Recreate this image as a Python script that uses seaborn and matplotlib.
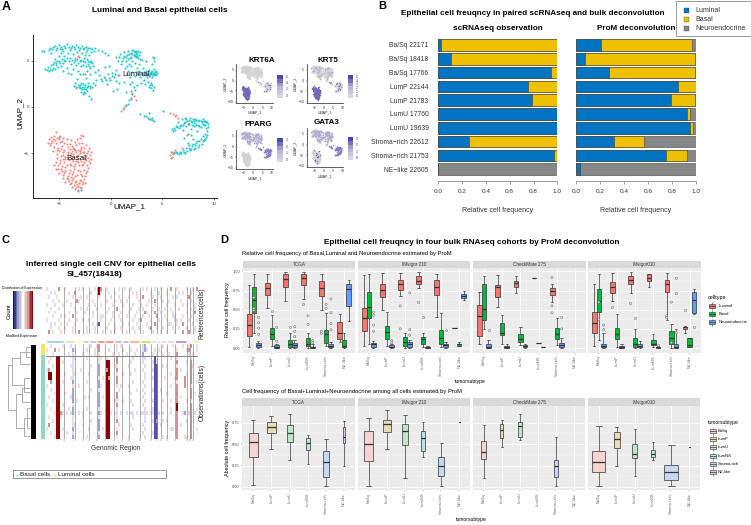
import matplotlib
matplotlib.use('Agg')
import matplotlib.pyplot as plt
import numpy as np
import pandas as pd
import seaborn as sns
from matplotlib.colors import LinearSegmentedColormap
from matplotlib.patches import Rectangle

W, H = 751, 525

# panel A, UMAP points
lum_top = [
    (-6.7, 6.0), (-6.5, 6.0), (-6.0, 6.1), (-5.8, 5.8), (-5.9, 6.4), (-5.6, 6.5), (-5.4, 6.6), (-5.2, 6.4),
    (-5.0, 6.7), (-4.8, 6.5), (-4.7, 6.2), (-4.5, 6.6), (-4.3, 6.8), (-4.1, 6.5), (-4.0, 6.1), (-3.8, 6.6),
    (-3.6, 6.5), (-3.4, 6.7), (-3.2, 6.5), (-3.0, 6.3), (-2.8, 6.6), (-2.6, 6.4), (-2.4, 6.5), (-2.2, 6.3),
    (-2.0, 6.4), (-1.8, 6.2), (-1.5, 6.3), (-1.2, 6.1), (-0.9, 6.0), (-0.6, 5.8), (-0.3, 5.6),
    (-6.4, 4.1), (-6.2, 4.0), (-6.1, 4.3), (-5.9, 4.1), (-5.8, 4.5), (-5.6, 4.2), (-5.5, 4.8), (-5.3, 4.5),
    (-5.4, 5.2), (-5.2, 5.0), (-5.0, 5.5), (-5.1, 4.3), (-4.9, 4.7), (-4.7, 5.2), (-4.8, 5.8), (-4.5, 5.5),
    (-4.4, 4.9), (-4.3, 4.2), (-4.2, 5.8), (-4.0, 5.3), (-3.9, 4.6), (-3.7, 5.7), (-3.5, 5.1), (-3.4, 4.5),
    (-3.3, 5.9), (-3.1, 5.4), (-3.0, 4.9), (-2.9, 4.4), (-2.8, 5.8), (-2.6, 5.3), (-2.5, 4.8), (-2.4, 5.9),
    (-2.3, 5.2), (-2.2, 4.6), (-2.1, 5.6), (-1.9, 5.0), (-2.0, 4.2), (-4.6, 3.9), (-3.9, 3.6), (-3.2, 3.9),
    (-2.7, 3.6), (-2.3, 3.9), (-1.7, 4.4), (-1.5, 3.8),
    (-3.6, 2.3), (-3.4, 2.1), (-3.2, 2.4), (-3.0, 2.0), (-2.9, 2.6), (-2.8, 2.2), (-2.6, 1.9), (-2.5, 2.4),
    (-2.3, 2.1), (-2.2, 2.6), (-2.0, 2.3), (-2.9, 1.6), (-2.7, 1.4), (-2.5, 1.5), (-2.3, 1.7), (-2.1, 1.2),
    (-1.9, 0.9), (-1.7, 2.6), (-1.4, 2.9), (-3.3, 3.0), (-2.4, 3.1),
    (-1.1, 3.4), (-0.9, 2.8), (-0.7, 3.2), (-0.4, 2.5), (-0.3, 3.5), (-0.1, 2.9), (0.1, 3.7), (0.3, 3.2),
    (0.5, 4.0), (0.7, 3.4), (0.8, 2.6), (-0.6, 4.3), (-0.2, 4.4), (0.2, 1.7), (0.6, 1.9),
    (0.5, 5.4), (0.7, 5.0), (0.9, 5.7), (1.0, 4.6), (1.2, 5.3), (1.3, 5.9), (1.4, 4.2), (1.5, 5.0),
    (1.6, 5.6), (1.7, 6.0), (1.8, 4.6), (1.9, 5.3), (2.0, 5.8), (2.1, 6.1), (2.2, 5.6), (2.3, 5.9),
    (2.4, 5.4), (2.5, 5.8), (2.6, 6.0), (2.7, 5.6), (2.8, 5.2), (2.3, 4.7), (2.5, 4.2), (2.7, 4.6),
    (1.6, 3.6), (1.9, 3.2), (2.1, 3.8), (2.3, 3.3), (2.6, 3.6), (2.8, 3.2), (3.0, 3.7), (3.1, 4.2),
    (3.3, 3.4), (3.4, 3.9), (3.5, 3.2), (3.6, 3.6), (3.7, 4.0), (3.8, 3.4), (3.9, 3.8), (4.0, 3.2),
    (4.1, 3.7), (4.2, 4.1), (4.3, 3.5), (4.4, 3.9), (4.5, 3.7), (4.2, 5.0), (4.1, 5.4), (4.0, 4.6),
    (3.4, 5.0), (3.0, 5.1), (3.6, 2.7), (3.8, 2.4), (3.9, 2.0), (4.1, 1.8), (4.2, 2.2), (3.3, 2.5),
    (2.9, 2.6), (2.5, 2.4), (1.9, 2.5), (1.5, 1.6), (1.3, 2.7),
    (2.3, 1.8), (2.1, 1.4), (2.0, 1.0), (1.8, 0.7), (1.7, 0.3), (1.5, 0.2), (1.3, -0.1),
]
lum_top_more = [
    (-5.7, 6.2), (-5.3, 6.1), (-4.9, 6.2), (-4.6, 6.0), (-4.4, 6.3), (-3.9, 6.3), (-3.5, 6.2), (-3.1, 6.1),
    (-2.7, 6.2), (-2.3, 6.1), (-1.9, 5.9), (-1.6, 6.0),
    (-6.0, 3.9), (-5.7, 4.0), (-5.4, 4.1), (-5.6, 4.6), (-5.3, 4.7), (-5.0, 4.9), (-4.8, 4.4), (-4.6, 4.7),
    (-4.5, 5.1), (-4.3, 5.3), (-4.1, 4.9), (-3.8, 5.1), (-3.6, 4.8), (-3.3, 5.2), (-3.2, 4.7), (-2.9, 5.1),
    (-2.7, 4.9), (-2.7, 4.5), (-2.5, 5.6), (-2.4, 4.4), (-2.2, 5.0), (-2.0, 4.8), (-2.1, 4.4), (-1.8, 4.7),
    (-3.7, 4.1), (-4.2, 3.7), (-3.0, 3.5), (-2.0, 3.6), (-1.2, 4.0),
    (-3.5, 2.6), (-3.1, 2.2), (-3.0, 2.4), (-2.7, 2.5), (-2.6, 2.2), (-2.4, 1.9), (-2.2, 2.3), (-2.0, 2.0),
    (-2.8, 1.9), (-2.6, 1.6), (-1.8, 2.2), (-1.5, 2.4),
    (-1.0, 3.0), (-0.5, 2.9), (-0.2, 3.1), (0.1, 3.3), (0.4, 3.6), (0.5, 2.8),
    (0.8, 5.4), (1.1, 5.0), (1.3, 5.5), (1.5, 5.4), (1.7, 5.2), (1.8, 5.7), (2.0, 5.4), (2.1, 5.7),
    (2.3, 5.5), (2.4, 5.7), (2.4, 6.0), (2.2, 6.0), (2.5, 5.5), (2.6, 5.3), (2.8, 5.9), (2.1, 5.0),
    (2.0, 4.4), (1.6, 4.4), (1.7, 3.9), (2.4, 3.8), (2.7, 3.9), (2.9, 3.5), (3.1, 3.4), (3.2, 3.8),
    (3.4, 3.6), (3.5, 3.5), (3.6, 3.9), (3.7, 3.3), (3.8, 3.7), (3.9, 3.5), (4.0, 3.9), (4.1, 3.4),
    (4.2, 3.6), (4.3, 3.8), (4.4, 3.4), (3.9, 2.6), (3.7, 2.2), (4.0, 2.4), (4.2, 5.3), (3.2, 2.9),
    (2.1, 2.7), (2.2, 2.2), (2.0, 1.7),
]
lum_right = [
    (2.8, -0.8), (3.4, -1.0), (3.6, -1.2), (3.8, -1.3), (4.0, -1.4), (4.2, -1.5), (3.7, -0.7), (5.1, -0.4),
    (5.9, -2.4), (6.1, -2.3), (6.0, -2.6), (6.3, -2.0), (6.5, -1.6), (6.6, -2.3), (6.8, -1.9), (6.9, -1.3),
    (7.0, -2.5), (7.1, -1.7), (7.2, -1.2), (7.3, -2.1), (7.4, -1.5), (7.5, -2.9), (7.6, -1.8), (7.7, -1.2),
    (7.8, -2.4), (7.9, -1.6), (8.0, -1.3), (8.1, -2.1), (8.2, -1.7), (8.3, -1.4), (8.4, -2.6), (8.5, -1.9),
    (8.6, -1.4), (8.7, -2.2), (8.8, -1.6), (8.9, -1.3), (9.0, -1.9), (9.1, -1.5), (9.2, -2.3), (9.3, -1.6),
    (9.4, -1.8), (9.3, -2.6), (9.2, -3.2), (9.1, -2.9), (9.0, -3.6), (8.9, -3.1), (8.8, -4.0), (8.6, -3.7),
    (8.5, -4.3), (8.3, -3.9), (8.1, -4.5), (8.2, -4.1), (7.9, -4.2), (7.7, -4.6), (7.5, -3.9), (7.4, -4.7),
    (7.6, -4.4), (7.2, -5.0), (7.0, -4.6), (6.8, -5.0), (6.6, -5.1), (6.3, -4.9), (6.1, -5.0), (5.9, -4.8),
    (7.1, -3.3), (7.8, -3.0), (8.0, -3.5),
    (6.2, -2.5), (6.4, -2.2), (6.7, -2.1), (7.0, -1.9), (7.2, -1.6), (7.3, -1.3), (7.5, -1.8), (7.6, -1.4),
    (7.8, -1.5), (7.9, -1.9), (8.1, -1.5), (8.2, -1.3), (8.3, -1.9), (8.5, -1.5), (8.6, -2.0), (8.7, -1.5),
    (8.9, -1.8), (9.0, -1.5), (9.1, -1.9), (9.2, -1.6), (9.4, -2.2), (9.3, -3.0), (9.1, -3.4), (8.9, -3.7),
    (8.7, -3.4), (8.6, -4.1), (8.4, -3.7), (8.2, -4.4), (8.0, -4.0), (7.8, -4.5), (7.6, -4.1), (7.3, -4.4),
    (7.1, -4.8), (6.7, -4.8), (6.4, -5.0), (3.2, -1.0), (4.0, -1.2),
]
basal_in_lum = [
    (-3.5, 5.3), (-3.2, 5.5), (-2.5, 3.6), (-0.6, 3.1), (0.8, 3.4), (-3.4, 2.0), (2.1, 1.5), (2.2, 1.2),
    (2.4, 0.8), (2.0, 0.9), (1.4, 0.1), (1.2, -0.2), (1.0, -0.4), (5.7, -0.7), (6.0, -0.8), (6.3, -0.9),
    (6.5, -1.2), (6.2, -1.0), (3.7, -1.3), (5.8, -4.9), (5.7, -5.2), (5.9, -5.4), (6.0, -5.1), (6.1, -4.8),
    (5.8, -5.5), (6.2, -4.6), (7.4, -3.0), (6.9, -4.4), (7.6, -1.8),
]
basal_pts = [
    (-5.3, -2.7), (-5.5, -3.1), (-5.8, -3.2), (-6.0, -3.5), (-5.2, -3.3), (-4.9, -3.1), (-4.6, -3.3),
    (-4.3, -3.5), (-3.9, -3.6), (-3.3, -3.4), (-3.0, -3.3), (-2.9, -3.0), (-2.7, -3.1),
    (-6.1, -3.9), (-5.9, -4.1), (-5.7, -3.7), (-5.5, -4.3), (-5.3, -3.9), (-5.1, -4.4), (-4.9, -3.8),
    (-4.7, -4.2), (-4.5, -3.9), (-4.2, -4.3), (-4.0, -4.0), (-3.7, -4.4), (-3.4, -4.1), (-3.1, -3.9),
    (-2.9, -4.3), (-2.6, -4.4), (-2.4, -4.1),
    (-5.6, -4.7), (-5.2, -5.1), (-5.0, -4.7), (-4.8, -5.3), (-4.6, -4.9), (-4.4, -5.4), (-4.2, -4.8),
    (-4.0, -5.2), (-3.8, -4.7), (-3.6, -5.4), (-3.4, -4.9), (-3.2, -5.2), (-3.0, -4.7), (-2.8, -5.4),
    (-2.6, -4.9), (-2.4, -5.3), (-2.2, -4.7), (-2.0, -5.2), (-1.9, -4.9),
    (-5.5, -6.3), (-5.3, -5.9), (-5.1, -6.2), (-4.9, -5.7), (-4.7, -6.4), (-4.5, -5.9), (-4.3, -6.2),
    (-4.1, -5.7), (-3.9, -6.3), (-3.7, -5.8), (-3.5, -6.1), (-3.3, -5.6), (-3.1, -6.3), (-2.9, -5.8),
    (-2.7, -6.1), (-2.5, -5.6), (-2.3, -6.2), (-2.1, -5.8), (-1.9, -5.6), (-4.4, -5.55),
    (-5.3, -6.7), (-5.0, -7.1), (-4.8, -6.7), (-4.6, -7.3), (-4.4, -6.9), (-4.2, -7.4), (-4.0, -6.8),
    (-3.8, -7.2), (-3.6, -6.7), (-3.3, -7.3), (-3.0, -6.9), (-2.8, -7.4), (-2.6, -6.8), (-2.4, -7.1),
    (-2.2, -6.6),
    (-4.6, -7.7), (-4.4, -8.1), (-4.2, -7.8), (-4.0, -8.3), (-3.8, -7.9), (-3.6, -8.4), (-3.4, -8.0),
    (-3.2, -8.5), (-3.0, -7.9), (-2.8, -8.3), (-2.6, -7.8), (-2.5, -8.2), (-3.8, -8.6), (-3.5, -8.8),
    (-3.2, -8.9), (-2.9, -8.7),
    (-5.6, -3.4), (-5.4, -3.6), (-5.0, -3.5), (-4.7, -3.7), (-5.8, -3.9), (-5.2, -4.6), (-4.8, -4.5),
    (-4.5, -4.6), (-4.3, -4.0), (-3.8, -4.2), (-3.5, -3.8), (-3.2, -4.6), (-2.8, -3.9), (-2.7, -4.8),
    (-4.6, -5.2), (-4.2, -5.1), (-4.0, -4.5), (-3.9, -4.95), (-3.7, -5.1), (-3.5, -4.65), (-3.3, -5.3),
    (-3.0, -5.0), (-2.9, -4.5), (-2.5, -5.5), (-2.3, -5.0), (-2.1, -4.4), (-5.2, -5.5), (-4.9, -6.0),
    (-4.6, -5.6), (-4.4, -6.5), (-4.2, -5.5), (-4.0, -6.1), (-3.8, -5.6), (-3.6, -6.4), (-3.4, -5.85),
    (-3.2, -5.95), (-3.0, -5.55), (-2.8, -6.3), (-2.6, -5.9), (-2.4, -5.75), (-2.2, -5.45), (-2.0, -6.0),
    (-5.1, -6.7), (-4.7, -6.9), (-4.5, -7.1), (-4.1, -7.1), (-3.9, -7.5), (-3.7, -6.95), (-3.5, -7.4),
    (-3.2, -6.8), (-2.9, -7.2), (-2.5, -7.4), (-2.3, -6.9), (-4.3, -7.6), (-4.1, -8.0), (-3.9, -8.2),
    (-3.7, -7.7), (-3.5, -8.1), (-3.3, -8.3), (-3.1, -8.2), (-2.9, -8.0), (-2.7, -8.1), (-3.4, -8.6),
    (-3.0, -8.6),
]
lum_in_basal = [(-5.0, -3.2), (-3.6, -4.5), (-2.9, -8.9), (-3.2, -9.0), (-2.5, -5.2)]

# every how many-th point of a cluster expresses the gene (0 = none), basal / top / right
gene_names = ['KRT6A', 'KRT5', 'PPARG', 'GATA3']
gene_strides = [(1, 0, 9), (1, 7, 6), (0, 2, 1), (12, 2, 1)]
gene_ticks = [[0, 2, 4, 6], [0, 1, 2, 3, 4, 5], [0, 1, 2, 3], [0, 1, 2, 3]]
key_levels = [5, 4, 3, 2, 1, 0]

# panel B
samples = ['Ba/Sq 22171', 'Ba/Sq 18418', 'Ba/Sq 17766', 'LumP 22144', 'LumP 21783', 'LumU 17760', 'LumU 19639',
           'Stroma\u2212rich 22612', 'Stroma\u2212rich 21753', 'NE\u2212like 22605']
sc_luminal = [.02, .11, .95, .75, .785, 1, 1, .26, .97, 0]
sc_basal = [.98, .89, .05, .25, .215, 0, 0, .74, .03, 0]
sc_neuro = [0, 0, 0, 0, 0, 0, 0, 0, 0, 1]
prom_luminal = [.205, .07, .275, .85, .79, .93, .955, .315, .755, .03]
prom_basal = [.765, .925, .715, .15, .2, .02, .02, .255, .175, 0]
prom_neuro = [.03, .005, .01, 0, .01, .05, .025, .43, .07, .97]

# panel C, one character per cell: N B b . r R D = strong loss ... strong gain
cnv_reference = [
    "r.....R..r ......b.r. ....r.DR.. r.....b..r ..r.....r. b...r..r.. ..R..r.... r..b.R",
    "..r.b..... .r..R..... ..b...Dr.. .r..r..... ...r.b.... ..r...b... r.....r.b. ..r...",
    ".b...r.... ...r...r.. r.....r... ..b...r... .r...r..R. ...b...r.. ...r.b.... .R...r",
    "...r..b... r....Rr... ...r...... r...r..b.. r.....r... .b..R...r. .r.....r.. ..b...",
    "r...b...r. ..r....... .r..b..r.. ...r....r. ...b...r.. r...r..... b...r...r. r...r.",
    "..r...r... ....b..r.. r....b.... .r...R.... ..r...r.b. ...r..b..r ..r...b... ..r.b.",
    ".b..r..... .r...r...r ...r...... r..b...r.. .r...b...R r...B..r.. ...b...... r...R.",
    "...r...b.r ...R...... ...r...br. ...r..r... r...r...b. .r...R...r ...br...r. ..b...",
    "r.....r... .b...r..r. .b.....r.. ..r....b.. ...r..rB.. ..r...b... r...bb.r.. .r...r",
    "..b.r..r.. r...r..... ...r.rN... .r..r...r. .b...r.... r...Rr.... .bb..r..R. ...r..",
    "..r...r..b ...r...... r...b..... r...b..r.. ...r..b... .rB..r..r. ...r..r... r...b.",
    ".R.r...r.. ...r..R... r...r...r. ..b.r..... r...r...b. ...r...r.. r...r...R. .R..r.",
]
cnv_observation = [
    "..r.....r. ..b....... ..r..rR... .....r.r.. ........bB ........r. ...r....r. .rR..r",
    "r...R.r... ...Br..... b...r.R... .b...r..b. ..r..r..bB b...b.r... r....r.... rR...r",
    "...r...... .r.b....r. ....b.r... ...r..r... r...b...B. ...r.r..r. .r...R.... .r.r..",
    "..r..DD... ...br..... r.....br.. r....R.... ...b....bb ....N..... ..r..r.... ..r...",
    ".r...DD.r. ...b...... ......b... DD...R.... ..r.....b. ...bNb.... .....R.... r.R...",
    "...r.DD... ..rb...... ..r...B... DD..rr.... .b.......b ....NN..r. r....r.... ..Rr..",
    "rR...DD... ...b...r.. ......B... RD...R.... ....r...b. ...bNN.... .....R.r.. ..R...",
    ".DD..DD..r ...bb..... .r....B... DD...r..r. ..b......b ....NN.... ..r..R.... r.R...",
    ".DD..DD... ..rb...... ......b.r. DR...R.... .........b ...bNN...r ....rR...R ..R...",
    "..R..DD.r. ...B...... r.....B... DD...R.... ...b....b. ....NN.... .....r...R ..R..r",
    "r....DD... ...b..r... ......Br.. DD...r.b.. .r.......b ....NN.... ..r..R...R ..r...",
    "..r..DD... ...B...... ..r...b... DD....r... .....r..b. ...bNN.r.. .....R.... ..R...",
    "....rDD..r ...B...... ......B... DD...R.... ..b......b ....NN.... r....R.... ..R.r.",
    ".r...DD... ..bB.....r .r....B.r. DD...R.... ........b. ....NN.... .....R.r.. ..R...",
    "...r.DD... ...B.r.... ......B... DD..rr..b. ..r......b ...bNN..r. ..r..R.... r.r...",
    "r....DD.r. ...b...... ......B... DD...R.... ...b....b. ....NN.... .....D.... ..R...",
    "..r..DD... .r.B...... r.....b... DD...r.... .........b ...bNN.... ..r..D.... ..R..r",
    "....rDDRr. b.bB..b.b. ..b...Bb.. DDr.rb.b.. b.bb.b.bbb b.bbNNb.b. ..b..R..bB .bR.b.",
    ".r...DDr.. ...b....r. ......b... DD...r.... ...b.....b ....NN.... .....R.... ..R...",
    "...r.DD... ...b...... ..r...B... DD...R.... .........b ...bNB..r. r....R.... r.R...",
    ".R...DD... ...bb...r. ......B... DD....r... ..r.....b. ....NN.b.. .....R.r.. ..R...",
    "r....DD.r. ...B...... .r....B.r. DD...r.... ...b.....b ....NN.... ..bb.R.... ..R..r",
    "..r..DD... r..b...... ......b... DD...R.... ........b. ...bNN.... .....R.... ..R...",
    "....rDD... ...B...... r.....B... DD...r.... .r.......b ....NN..r. r....R...r r.R...",
]
cnv_levels = {'N': -.7, 'B': -.38, 'b': -.14, '.': 0.0, 'r': .13, 'R': .42, 'D': 1.0}
chrom_bounds = [9, 14.5, 18.5, 21.5, 25.5, 29.5, 34, 38, 41.5, 47, 52.5, 55.5, 57.5, 60.5, 64.5, 70.5, 72, 73.5]
chrom_colors = ['#8DD3C7', '#CCEBC5', '#FFFFB3', '#BEBADA', '#BEBADA', '#FB8072', '#FB8072', '#B3B3DD', '#B3B3DD',
                '#FDB462', '#B3DE69', '#FCCDE5', '#FCCDE5', '#FCCDE5', '#E8D5E8', '#BC80BD', '#CCEBC5', '#FFED6F', '#FFED6F']
key_values = [-1, -.8, -.6, -.4, -.25, -.12, 0, .12, .25, .4, .6, .8, 1]
dendro_segments = [
    (8, 8, 365, 410), (8, 12, 365, 365), (12, 12, 358, 385), (12, 20, 358, 358), (20, 20, 352, 364),
    (20, 30, 352, 352), (20, 30, 364, 364), (12, 24, 385, 385), (24, 24, 378, 392), (24, 30, 378, 378),
    (24, 30, 392, 392), (8, 16, 410, 410), (16, 16, 394, 428), (16, 22, 394, 394), (22, 22, 388, 402),
    (22, 30, 388, 388), (22, 30, 402, 402), (16, 24, 428, 428), (24, 24, 418, 436), (24, 30, 418, 418),
    (24, 30, 436, 436), (27, 27, 408, 428), (27, 30, 408, 408), (27, 30, 428, 428), (26, 26, 347, 357),
    (26, 30, 347, 347), (26, 30, 357, 357),
]

# panel D top, low whisker / q1 / median / q3 / high whisker, one tuple per subtype
subtypes = ['BaSq', 'LumP', 'LumU', 'LumNS', 'Stroma-rich', 'NE-like']
cohorts = ['TCGA', 'IMvigor 210', 'CheckMate 275', 'IMvigor010']
celltypes = ['Luminal', 'Basal', 'Neuroendocrine']
tcga_rel = {
    'Luminal': [(.02, .16, .30, .45, .82), (.52, .69, .78, .85, .97), (.61, .80, .90, .96, .99),
                (.64, .82, .92, .97, .99), (.50, .68, .78, .88, .97), (.08, .12, .20, .34, .45)],
    'Basal': [(.20, .46, .63, .79, .97), (.03, .12, .19, .26, .43), (0, .01, .05, .10, .20),
              (0, .03, .06, .13, .20), (.03, .07, .19, .24, .46), (0, .01, .03, .10, .20)],
    'Neuroendocrine': [(0, .01, .04, .07, .09), (0, 0, .02, .04, .06), (0, .02, .04, .07, .10),
                       (0, 0, .01, .02, .05), (0, .01, .03, .06, .08), (.35, .55, .77, .84, .89)],
}
imvigor_rel = {
    'Luminal': [(.03, .22, .39, .52, .95), (.50, .67, .76, .84, .98), (.68, .76, .84, .89, .98),
                (.78, .83, .87, .94, .99), (.40, .69, .80, .89, .96), (.26, .26, .26, .26, .26)],
    'Basal': [(.05, .39, .53, .73, .97), (.03, .12, .21, .29, .47), (0, .03, .08, .15, .20),
              (.02, .05, .12, .15, .20), (.02, .05, .13, .23, .46), (.03, .03, .05, .06, .08)],
    'Neuroendocrine': [(0, .01, .05, .07, .09), (0, .01, .02, .04, .05), (0, .02, .05, .08, .10),
                       (0, 0, .01, .02, .03), (0, .01, .04, .06, .08), (.63, .65, .68, .71, .74)],
}
checkmate_rel = {
    'Luminal': [(.05, .16, .42, .56, .73), (.54, .66, .79, .82, .95), (.72, .79, .85, .88, .94),
                (.91, .91, .91, .91, .91), (.60, .69, .75, .78, .83), None],
    'Basal': [(.25, .36, .51, .83, .94), (.05, .17, .20, .33, .43), (.04, .08, .12, .19, .27),
              (.07, .07, .07, .07, .07), (.04, .12, .18, .26, .39), None],
    'Neuroendocrine': [(0, 0, .01, .05, .10), (0, 0, .02, .03, .06), (0, .02, .03, .04, .05),
                       (.02, .02, .02, .02, .02), (0, .01, .04, .07, .13), None],
}
imvigor010_rel = {
    'Luminal': [(.03, .20, .33, .47, .84), (.62, .72, .79, .86, .98), (.72, .83, .89, .94, .99),
                (.79, .87, .92, .96, .97), (.36, .73, .84, .89, .98), (.20, .25, .27, .28, .29)],
    'Basal': [(.10, .47, .62, .77, .97), (.02, .12, .19, .26, .44), (0, .02, .05, .13, .25),
              (.02, .04, .06, .11, .19), (0, .05, .13, .22, .31), (.02, .02, .04, .13, .13)],
    'Neuroendocrine': [(0, .01, .03, .05, .20), (0, 0, .02, .03, .06), (0, .01, .03, .05, .09),
                       (0, 0, .01, .015, .03), (0, 0, .02, .05, .25), (.44, .46, .63, .73, .77)],
}
top_boxes = [tcga_rel, imvigor_rel, checkmate_rel, imvigor010_rel]

# outliers: subtype, cell type, value
tcga_fliers = [
    ('BaSq', 'Basal', .66), ('BaSq', 'Basal', .52), ('BaSq', 'Basal', .49), ('BaSq', 'Neuroendocrine', .40),
    ('BaSq', 'Neuroendocrine', .33), ('BaSq', 'Neuroendocrine', .26), ('BaSq', 'Neuroendocrine', .18),
    ('LumP', 'Basal', .48), ('LumP', 'Neuroendocrine', .27), ('LumP', 'Neuroendocrine', .09),
    ('LumU', 'Basal', .27), ('LumU', 'Neuroendocrine', .28), ('LumU', 'Neuroendocrine', .22),
    ('LumU', 'Neuroendocrine', .15), ('LumNS', 'Luminal', .57), ('LumNS', 'Basal', .42), ('LumNS', 'Basal', .31),
    ('LumNS', 'Neuroendocrine', .10), ('LumNS', 'Neuroendocrine', .07), ('Stroma-rich', 'Luminal', .22),
    ('Stroma-rich', 'Luminal', .19), ('Stroma-rich', 'Basal', .57), ('Stroma-rich', 'Basal', .52),
    ('Stroma-rich', 'Neuroendocrine', .64), ('Stroma-rich', 'Neuroendocrine', .46),
    ('Stroma-rich', 'Neuroendocrine', .32), ('Stroma-rich', 'Neuroendocrine', .24),
]
imvigor_fliers = [
    ('BaSq', 'Neuroendocrine', .47), ('BaSq', 'Neuroendocrine', .43), ('BaSq', 'Neuroendocrine', .30),
    ('BaSq', 'Neuroendocrine', .22), ('LumP', 'Neuroendocrine', .10), ('LumP', 'Neuroendocrine', .07),
    ('LumU', 'Luminal', .55), ('LumU', 'Luminal', .25), ('LumU', 'Neuroendocrine', .72),
    ('LumU', 'Neuroendocrine', .24), ('LumU', 'Neuroendocrine', .17), ('LumNS', 'Luminal', .60),
    ('LumNS', 'Basal', .40), ('Stroma-rich', 'Neuroendocrine', .23),
]
checkmate_fliers = [
    ('BaSq', 'Neuroendocrine', .23), ('Stroma-rich', 'Luminal', .92), ('Stroma-rich', 'Luminal', .55),
    ('Stroma-rich', 'Luminal', .46), ('Stroma-rich', 'Neuroendocrine', .40), ('Stroma-rich', 'Neuroendocrine', .25),
]
imvigor010_fliers = [
    ('BaSq', 'Basal', .37), ('BaSq', 'Basal', .60), ('BaSq', 'Neuroendocrine', .30), ('BaSq', 'Neuroendocrine', .24),
    ('LumP', 'Luminal', .53), ('LumU', 'Luminal', .59), ('LumU', 'Basal', .39), ('LumNS', 'Neuroendocrine', .04),
    ('Stroma-rich', 'Luminal', .42), ('Stroma-rich', 'Luminal', .40), ('Stroma-rich', 'Basal', .60),
    ('Stroma-rich', 'Basal', .07), ('Stroma-rich', 'Neuroendocrine', .91), ('Stroma-rich', 'Neuroendocrine', .71),
    ('Stroma-rich', 'Neuroendocrine', .20), ('NE-like', 'Luminal', .50), ('NE-like', 'Neuroendocrine', .27),
]
top_fliers = [tcga_fliers, imvigor_fliers, checkmate_fliers, imvigor010_fliers]

# panel D bottom, same tuples, and the box width of each subtype
tcga_abs = [(.02, .35, .52, .625, .78), (.44, .625, .70, .76, .83), (.31, .53, .625, .72, .85),
            (.27, .435, .515, .57, .61), (.01, .12, .29, .415, .56), (.24, .51, .58, .70, .77)]
imvigor_abs = [(.015, .30, .50, .65, .81), (.44, .64, .73, .78, .90), (.11, .485, .65, .74, .84),
               (.35, .415, .57, .65, .76), (.015, .125, .25, .345, .51), (.76, .76, .76, .76, .76)]
checkmate_abs = [(.105, .325, .405, .54, .72), (.47, .57, .67, .73, .78), (.55, .585, .71, .755, .85),
                 (.275, .275, .275, .275, .275), (.015, .12, .24, .315, .58), None]
imvigor010_abs = [(.015, .17, .29, .415, .71), (.245, .455, .555, .64, .695), (.13, .34, .39, .50, .68),
                  (.31, .355, .38, .435, .53), (.01, .08, .18, .255, .49), (.47, .47, .47, .47, .47)]
bottom_boxes = [tcga_abs, imvigor_abs, checkmate_abs, imvigor010_abs]
tcga_widths = [.5, .46, .33, .22, .35, .15]
imvigor_widths = [.48, .42, .35, .2, .33, .06]
checkmate_widths = [.24, .18, .18, .04, .2, 0]
imvigor010_widths = [.68, .31, .28, .18, .77, .04]
bottom_widths = [tcga_widths, imvigor_widths, checkmate_widths, imvigor010_widths]

cell_palette = {'Luminal': '#F8766D', 'Basal': '#00BA38', 'Neuroendocrine': '#619CFF'}
subtype_colors = ['#F7D3D1', '#E6DDB4', '#BFE6C6', '#B6E6E2', '#C5D9F4', '#E9C8E8']
bar_colors = ['#0073C2', '#EFC000', '#868686']

fig = None
canvas = None


def pax(x0, y0, x1, y1):
    # axes placed by pixel box of the figure
    return fig.add_axes([x0 / W, 1 - y1 / H, (x1 - x0) / W, (y1 - y0) / H])


def txt(x, y, s, size=4, weight='normal', ha='center', rotation=0, color='black'):
    canvas.text(x, y, s, fontsize=size, fontweight=weight, ha=ha, va='center', rotation=rotation, color=color)


def scatter(ax, pts, color, size, alpha=1.0):
    sns.scatterplot(x=[p[0] for p in pts], y=[p[1] for p in pts], ax=ax, color=color, s=size, linewidth=0,
                    alpha=alpha, legend=False)


def plot_umap():
    ax = pax(33, 35, 217, 198)
    scatter(ax, lum_top + lum_top_more + lum_right + lum_in_basal, '#00BFC4', 2.4, 0.85)
    scatter(ax, basal_pts + basal_in_lum, '#F8766D', 2.4, 0.85)
    ax.set_xlim(-7.55, 10.3)
    ax.set_ylim(-9.8, 7.75)
    ax.set_xticks([-5, 0, 5, 10])
    ax.set_yticks([-5, 0, 5])
    ax.tick_params(labelsize=3.2, length=1.5, width=.5, pad=1.5, color='#333333', labelcolor='#333333', bottom=True, left=True)
    sns.despine(ax=ax)
    for s in ['left', 'bottom']:
        ax.spines[s].set_linewidth(.7)
        ax.spines[s].set_color('#222222')

    txt(6, 7, 'A', 9, 'bold')
    txt(160, 10, 'Luminal and Basal epithelial cells', 6, 'bold')
    txt(129, 207, 'UMAP_1', 5.8)
    txt(20, 113, 'UMAP_2', 5.8, rotation=90)
    txt(136, 74, 'Luminal', 5.8, color='#222222')
    txt(76, 158, 'Basal', 5.8, color='#222222')


def plot_features():
    boxes = [(236.3, 64, 272.7, 103), (306.7, 64, 343.3, 103), (236.3, 130, 272.7, 169), (306.7, 128, 343.3, 167)]
    title_pos = [(262, 60), (328, 60), (258, 124), (327, 122.7)]
    keys = [(277.3, 75, 283.3, 97.7), (347.7, 75, 353.3, 97.7), (277.3, 138, 283.3, 161.7), (347.7, 137, 353.3, 160)]
    cmap = LinearSegmentedColormap.from_list('feat', ['#D8D6E2', '#B7AEDA', '#4A48A8'])
    for i, gene in enumerate(gene_names):
        ax = pax(*boxes[i])
        top_all = lum_top + lum_top_more
        scatter(ax, basal_pts + top_all + lum_right, '#D3D3D3', 1.8)
        clusters = [basal_pts, top_all, lum_right]
        shades = ['#7568BC', '#B2A8D8', '#8A7ECA']
        for pts, stride, shade in zip(clusters, gene_strides[i], shades):
            if stride:
                scatter(ax, pts[::stride], shade, .8)
        ax.set_xlim(-9.1, 10.5)
        ax.set_ylim(-10.5, 7.8)
        ax.set_xticks([-5, 0, 5, 10])
        ax.set_yticks([-10, -5, 0, 5])
        ax.tick_params(labelsize=2.4, length=1, width=.3, pad=.8, bottom=True, left=True, color='#333333')
        ax.set_xlabel('UMAP_1', fontsize=2.6, labelpad=.6)
        ax.set_ylabel('UMAP_2', fontsize=2.6, labelpad=.6)
        sns.despine(ax=ax)
        for s in ['left', 'bottom']:
            ax.spines[s].set_linewidth(.5)
            ax.spines[s].set_color('#222222')
        txt(title_pos[i][0], title_pos[i][1], gene, 5.8, 'bold')

        kx = pax(*keys[i])
        sns.heatmap(pd.DataFrame({'v': key_levels}), ax=kx, cmap=cmap, cbar=False, xticklabels=False, yticklabels=False)
        ticks = gene_ticks[i]
        for t, lab in zip(np.linspace(keys[i][3] - 2, keys[i][1] + 2, len(ticks)), ticks):
            txt(keys[i][2] + 3.5, t, str(lab), 2.4, color='#333333')


def plot_stack(ax, luminal, basal, neuro, title):
    lum = np.array(luminal, dtype=float)
    bas = lum + np.array(basal)
    tot = bas + np.array(neuro)
    for vals, col in zip([tot, bas, lum], [bar_colors[2], bar_colors[1], bar_colors[0]]):
        sns.barplot(x=vals, y=samples, color=col, orient='h', width=.84, saturation=1, edgecolor='#444444',
                    linewidth=.4, ax=ax)
    ax.set_xlim(0, 1)
    ax.set_ylim(9.64, -.507)
    ax.set_xticks([0, .2, .4, .6, .8, 1])
    ax.set_xticklabels(['0.0', '0.2', '0.4', '0.6', '0.8', '1.0'])
    ax.tick_params(axis='x', labelsize=4.6, length=2.2, width=.5, pad=3.4, color='#777777', bottom=True,
                   labelcolor='#333333')
    sns.despine(ax=ax, left=True)
    ax.spines['bottom'].set_position(('outward', 2.2))
    ax.spines['bottom'].set_linewidth(.5)
    ax.spines['bottom'].set_color('#777777')
    ax.set_xlabel('')
    ax.set_ylabel('')
    txt(sum(ax.get_position().intervalx) / 2 * W, 29, title, 5.9, 'bold')
    txt(sum(ax.get_position().intervalx) / 2 * W, 210, 'Relative cell frequency', 5, color='#333333')


def plot_freq_bars():
    left = pax(438.3, 38, 557.3, 178)
    plot_stack(left, sc_luminal, sc_basal, sc_neuro, 'scRNAseq observation')
    left.tick_params(axis='y', labelsize=4.9, length=0, pad=7, labelcolor='#333333')
    right = pax(576.3, 38, 695.7, 178)
    plot_stack(right, prom_luminal, prom_basal, prom_neuro, 'ProM deconvolution')
    right.tick_params(axis='y', left=False, labelleft=False)

    txt(382, 6, 'B', 8, 'bold')
    txt(533, 13.7, 'Epithelial cell freuqncy in paired scRNAseq and bulk deconvolution', 5.9, 'bold')
    canvas.add_patch(Rectangle((676, 1), 74.5, 35, fc='white', ec='#999999', lw=.7))
    for y, col, lab in zip([10.3, 19.3, 28], bar_colors, ['Luminal', 'Basal', 'Neuroendocrine']):
        canvas.add_patch(Rectangle((684, y - 2.5), 5, 5, fc=col, ec='#555555', lw=.3))
        txt(695, y, lab, 5, ha='left', color='#333333')


def cnv_matrix(rows):
    mat = []
    for row in rows:
        row = row.replace(' ', '').ljust(76, '.')[:76]
        mat.append([cnv_levels[c] for c in row])
    return pd.DataFrame(mat)


def plot_cnv():
    cmap = LinearSegmentedColormap.from_list('cnv', ['#0A0A82', '#FFFFFF', '#8B0000'])
    ref_ax = pax(46, 287, 198, 334)
    sns.heatmap(cnv_matrix(cnv_reference), ax=ref_ax, cmap=cmap, vmin=-1, vmax=1, cbar=False, xticklabels=False,
                yticklabels=False)
    obs_ax = pax(46, 344, 198, 439)
    sns.heatmap(cnv_matrix(cnv_observation), ax=obs_ax, cmap=cmap, vmin=-1, vmax=1, cbar=False, xticklabels=False,
                yticklabels=False)
    obs_ax.axhline(3, color='#555555', lw=.5)
    for ax in [ref_ax, obs_ax]:
        ax.vlines(chrom_bounds, 0, 1, transform=ax.get_xaxis_transform(), color='#8A8A8A', lw=.5)
    obs_ax.set_xticks(chrom_bounds)
    obs_ax.set_xticklabels([])
    obs_ax.tick_params(axis='x', bottom=True, length=1.2, width=.3, color='#555555')

    strip = pax(46, 340, 198, 342.5)
    edges = [0] + chrom_bounds + [76]
    strip.broken_barh([(a, b - a) for a, b in zip(edges[:-1], edges[1:])], (0, 1), facecolors=chrom_colors)
    strip.set_xlim(0, 76)
    strip.set_ylim(0, 1)
    strip.axis('off')

    key = pax(12.7, 291, 33.3, 329)
    sns.heatmap(pd.DataFrame([key_values]), ax=key, cmap=cmap, vmin=-1, vmax=1, cbar=False, xticklabels=False,
                yticklabels=False)

    canvas.add_patch(Rectangle((41, 344), 3.5, 11, fc='#FFE45C', ec='none'))
    canvas.add_patch(Rectangle((41, 355), 3.5, 84, fc='#8DD8C8', ec='none'))
    canvas.add_patch(Rectangle((31, 345), 5, 94, fc='black', ec='none'))
    for x0, x1, y0, y1 in dendro_segments:
        canvas.plot([x0, x1], [y0, y1], color='#8C8C8C', lw=.5, solid_capstyle='butt')

    txt(6, 240, 'C', 8, 'bold')
    txt(111, 264, 'Inferred single cell CNV for epithelial cells', 6, 'bold')
    txt(95, 274, 'SI_457(18418)', 6, 'bold')
    txt(22, 287.5, 'Distribution of Expression', 2.5)
    txt(22, 336.5, 'Modified Expression', 2.5)
    txt(9, 311, 'Count', 4.2, rotation=90)
    txt(116, 449, 'Genomic Region', 4.8, color='#333333')
    txt(202, 313, 'References(cells)', 4.8, rotation=90, color='#222222')
    txt(202, 392, 'Observations(cells)', 4.8, rotation=90, color='#222222')
    canvas.add_patch(Rectangle((13, 470), 152.7, 8, fc='white', ec='#888888', lw=.6))
    canvas.plot([16.5], [474.5], 's', color='#8DD8C8', ms=1.3, mew=0)
    txt(20.5, 474, 'Basal cells', 4.6, ha='left', color='#222222')
    canvas.plot([55], [474.5], 's', color='#F2D25C', ms=1.3, mew=0)
    txt(58.5, 474, 'Luminal cells', 4.6, ha='left', color='#222222')


def gg_style(ax, yticks, ylabels, show_y):
    ax.set_facecolor('#EBEBEB')
    ax.set_xlim(-.6, 5.6)
    ax.set_yticks(yticks)
    ax.set_yticklabels(ylabels)
    minor = [(a + b) / 2 for a, b in zip(yticks[:-1], yticks[1:])]
    ax.set_yticks(minor, minor=True)
    ax.grid(True, which='major', color='white', lw=.6)
    ax.grid(True, which='minor', axis='y', color='white', lw=.3)
    ax.set_axisbelow(True)
    ax.tick_params(axis='x', labelsize=2.9, labelrotation=90, length=1, width=.3, pad=1, color='#555555',
                   labelcolor='#666666', bottom=True)
    ax.tick_params(axis='y', which='major', labelsize=2.9, length=1, width=.3, pad=.8, color='#555555',
                   labelcolor='#444444', left=show_y, labelleft=show_y)
    ax.tick_params(axis='y', which='minor', left=False)
    ax.set_xlabel('')
    ax.set_ylabel('')
    for s in ax.spines.values():
        s.set_visible(False)


def strip_label(x0, x1, y0, y1, name):
    canvas.add_patch(Rectangle((x0, y0), x1 - x0, y1 - y0, fc='#D9D9D9', ec='none'))
    txt((x0 + x1) / 2, (y0 + y1) / 2, name, 3.3, color='#333333')


def top_frame(boxes):
    rows = []
    for cell in celltypes:
        for sub, stats in zip(subtypes, boxes[cell]):
            if stats is None:
                continue
            for v in stats:
                rows.append({'subtype': sub, 'celltype': cell, 'freq': v})
    return pd.DataFrame(rows)


def plot_top_row():
    xs = [(243, 355), (358, 470), (473, 586), (588, 700.5)]
    for i, (x0, x1) in enumerate(xs):
        ax = pax(x0, 268.3, x1, 352.5)
        sns.boxplot(data=top_frame(top_boxes[i]), x='subtype', y='freq', hue='celltype', order=subtypes,
                    hue_order=celltypes, palette=cell_palette, width=.75, whis=(0, 100), fliersize=0, saturation=1,
                    linewidth=.5, linecolor='#333333', legend=False, medianprops={'linewidth': .9}, ax=ax)
        fliers = pd.DataFrame(top_fliers[i], columns=['subtype', 'celltype', 'freq'])
        sns.stripplot(data=fliers, x='subtype', y='freq', hue='celltype', order=subtypes, hue_order=celltypes,
                      palette={c: '#E8E8E8' for c in celltypes}, dodge=True, jitter=False, size=1.6, linewidth=.3,
                      edgecolor='#555555', legend=False, ax=ax)
        ax.set_ylim(-.057, 1.04)
        gg_style(ax, [0, .25, .5, .75, 1], ['0.00', '0.25', '0.50', '0.75', '1.00'], i == 0)
        strip_label(x0, x1, 260.5, 268.3, cohorts[i])

    txt(224, 240, 'D', 8, 'bold')
    txt(472, 242, 'Epithelial cell freuqncy in four bulk RNAseq cohorts by ProM deconvolution', 5.9, 'bold')
    txt(242, 254, 'Relative cell frequency of Basal,Luminal and Neuroendocrine estimated by ProM', 4.25, ha='left')
    txt(228, 310, 'Relative cell frequency', 3.9, rotation=90)
    txt(470, 382, 'tumorsubtype', 3.6)

    txt(708, 297, 'celltype', 3.9, ha='left')
    for y, cell in zip([305.7, 313.7, 322], celltypes):
        legend_key(712, y, cell_palette[cell])
        txt(718.7, y, cell, 3, ha='left')


def legend_key(x, y, color):
    canvas.plot([x, x], [y - 3.5, y + 3.5], color='#333333', lw=.4)
    canvas.add_patch(Rectangle((x - 3, y - 2), 6, 4, fc=color, ec='#333333', lw=.4, zorder=3))
    canvas.plot([x - 3, x + 3], [y, y], color='#333333', lw=.5, zorder=4)


def plot_bottom_row():
    xs = [(242.3, 355), (357.7, 470.3), (472.7, 585.3), (587.7, 700.3)]
    for i, (x0, x1) in enumerate(xs):
        ax = pax(x0, 406, x1, 490)
        for j, sub in enumerate(subtypes):
            stats = bottom_boxes[i][j]
            if stats is None:
                continue
            sns.boxplot(x=[sub] * 5, y=list(stats), order=subtypes, color=subtype_colors[j],
                        width=bottom_widths[i][j], whis=(0, 100), fliersize=0, saturation=1, linewidth=.5,
                        linecolor='#333333', medianprops={'linewidth': .9}, ax=ax)
        ax.set_ylim(-.035, .945)
        gg_style(ax, [0, .25, .5, .75], ['0.00', '0.25', '0.50', '0.75'], i == 0)
        strip_label(x0, x1, 398.3, 406, cohorts[i])

    txt(242, 392, 'Cell frequency of Basal+Luminal+Neuroendocrine among all cells estimated by ProM', 4.25, ha='left')
    txt(228, 448, 'Absolute cell frequency', 3.9, rotation=90)
    txt(471, 519, 'tumorsubtype', 3.6)
    txt(708, 422.7, 'tumorsubtype', 3.6, ha='left')
    for y, sub, col in zip([431, 439, 447, 456, 464, 472], subtypes, subtype_colors):
        legend_key(712.5, y, col)
        txt(718, y, sub, 3, ha='left')


if __name__ == '__main__':
    sns.set_theme(style='white')
    plt.rcParams['font.family'] = ['Liberation Sans', 'DejaVu Sans']
    fig = plt.figure(figsize=(W / 100, H / 100), dpi=100)
    canvas = fig.add_axes([0, 0, 1, 1], zorder=10)
    canvas.set_xlim(0, W)
    canvas.set_ylim(H, 0)
    canvas.axis('off')
    canvas.patch.set_alpha(0)

    plot_umap()
    plot_features()
    plot_freq_bars()
    plot_cnv()
    plot_top_row()
    plot_bottom_row()

    fig.savefig('out.png', dpi=100)
    plt.close(fig)
